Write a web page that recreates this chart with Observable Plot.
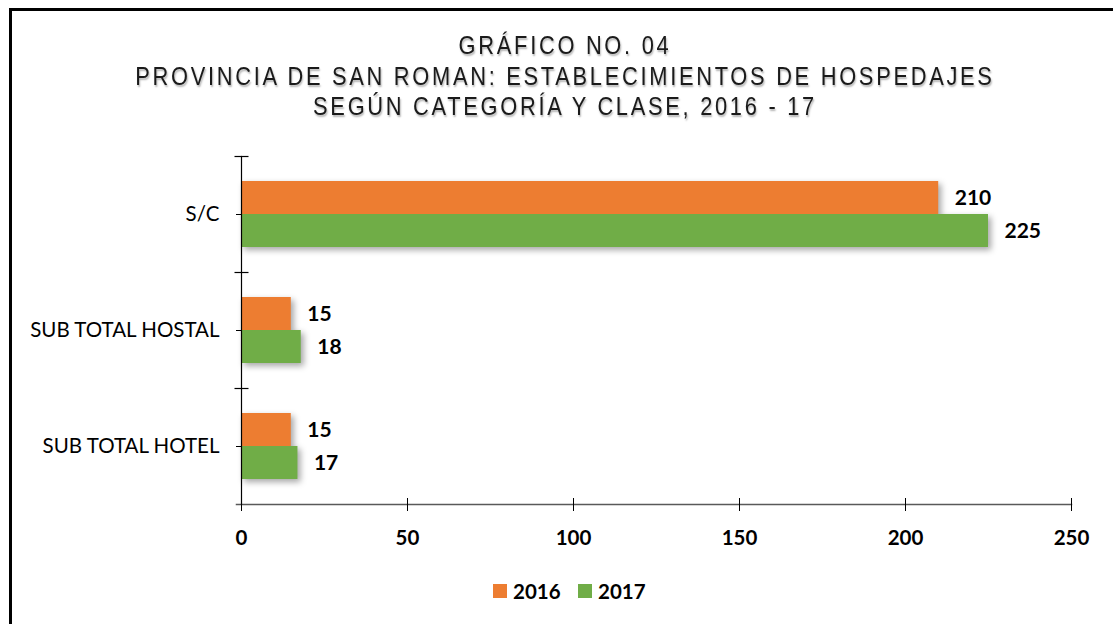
<!DOCTYPE html>
<html>
<head>
<meta charset="utf-8">
<script src="https://cdn.jsdelivr.net/npm/d3@7"></script>
<script src="https://cdn.jsdelivr.net/npm/@observablehq/plot@0.6"></script>
<style>
  html, body { margin: 0; padding: 0; background: #fff; }
  body { width: 1113px; height: 624px; position: relative; overflow: hidden; }
  #frame { position: absolute; left: 9px; top: 8px; width: 1200px; height: 700px;
           border-left: 3px solid #000; border-top: 3px solid #000; }
  #title { position: absolute; left: 0; top: 30px; width: 1130px; text-align: center;
           font-family: "Liberation Sans", Arial, sans-serif;
           font-size: 25.5px; line-height: 30.5px; letter-spacing: 3.2px; color: #1a1a1a;
           text-shadow: 1px 2px 2px rgba(0,0,0,0.3);
           transform: scaleX(0.855); transform-origin: 565px 0; }
  #chart { position: absolute; left: 0; top: 140px; }
  #legend { position: absolute; top: 579px; left: 0; width: 1113px; font-family: Lato, sans-serif;
            font-weight: bold; font-size: 20.5px; color: #000; }
  .item { position: absolute; top: 0; display: flex; align-items: center; gap: 6px; }
  .sw { width: 14px; height: 14px; display: inline-block; }
  .bars { filter: drop-shadow(3px 3px 3px rgba(0,0,0,0.35)); }
</style>
</head>
<body>
<div id="frame"></div>
<div id="title"><div>GRÁFICO NO. 04</div><div>PROVINCIA DE SAN ROMAN: ESTABLECIMIENTOS DE HOSPEDAJES</div><div>SEGÚN CATEGORÍA Y CLASE, 2016 - 17</div></div>
<div id="chart"></div>
<div id="legend"></div>
<script>
const categories = ["S/C", "SUB TOTAL HOSTAL", "SUB TOTAL HOTEL"];
const years = ["2016", "2017"];
const values2016 = [210, 15, 15];
const values2017 = [225, 18, 17];
const colors = ["#ED7D31", "#70AD47"];
const xTicks = [0, 50, 100, 150, 200, 250];

const data = categories.flatMap((c, i) => [
  {cat: c, year: years[0], v: values2016[i]},
  {cat: c, year: years[1], v: values2017[i]}
]);

const hline = { draw(context, size) { context.moveTo(-7, 0); context.lineTo(7, 0); } };

const chart = Plot.plot({
  width: 1113, height: 420,
  marginTop: 15, marginBottom: 55, marginLeft: 241, marginRight: 42,
  style: { fontFamily: "Lato, sans-serif", background: "transparent", color: "#000" },
  x: { domain: [0, 250], ticks: xTicks },
  y: { domain: years, paddingInner: 0, paddingOuter: 0.74, axis: null },
  fy: { domain: categories, padding: 0, label: null },
  color: { domain: years, range: colors },
  marks: [
    Plot.barX(data, { x: "v", y: "year", fy: "cat", fill: "year", className: "bars" }),
    Plot.text(data, { x: "v", y: "year", fy: "cat", text: d => String(d.v), textAnchor: "start",
                      dx: 16, fontWeight: "bold", fontSize: 21, fill: "#000" }),
    Plot.frame({ anchor: "bottom", facetAnchor: "bottom", stroke: "#595959", strokeWidth: 1.5, insetLeft: -5 }),
    Plot.frame({ anchor: "left", stroke: "#000", strokeWidth: 1.2 }),
    Plot.dot([0], { frameAnchor: "top-left", symbol: hline, stroke: "#000", strokeWidth: 1.2 }),
    Plot.axisFy({ anchor: "left", tickSize: 5, tickPadding: 17, fontSize: 20.5, label: null, stroke: "#000" }),
    Plot.axisX({ ticks: xTicks, tickSize: 13, dy: -6, tickFormat: () => "", label: null, stroke: "#000" }),
    Plot.axisX({ ticks: xTicks, tickSize: 0, tickPadding: 26, fontSize: 20.5, fontWeight: "bold", label: null })
  ]
});
document.getElementById("chart").appendChild(chart);

const legend = document.getElementById("legend");
const lx = [493, 578];
years.forEach((y, i) => {
  const el = document.createElement("div");
  el.className = "item";
  el.style.left = lx[i] + "px";
  el.innerHTML = `<span class="sw" style="background:${colors[i]}"></span><span>${y}</span>`;
  legend.appendChild(el);
});
</script>
</body>
</html>
